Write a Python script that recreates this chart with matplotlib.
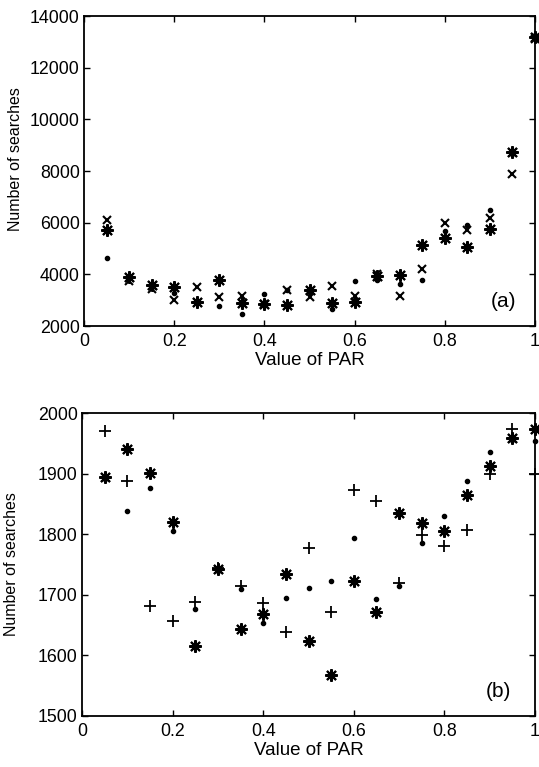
import numpy as np
import matplotlib
matplotlib.use("Agg")
import matplotlib.pyplot as plt

plt.rcParams['font.family'] = ['Liberation Sans', 'DejaVu Sans']

par = [0.05, 0.10, 0.15, 0.20, 0.25, 0.30, 0.35, 0.40, 0.45, 0.50,
       0.55, 0.60, 0.65, 0.70, 0.75, 0.80, 0.85, 0.90, 0.95, 1.00]

# panel (a)
a_star = [5700, 3910, 3600, 3510, 2920, 3780, 2890, 2840, 2810, 3410,
          2890, 2920, 3950, 3990, 5150, 5410, 5060, 5760, 8730, 13200]
a_cross = [6120, 3730, 3430, 3000, 3510, 3120, 3160, 2850, 3380, 3120,
           3550, 3180, 4000, 3150, 4220, 5990, 5710, 6200, 7900, 13100]
a_dot = [4620, 3850, 3500, 3290, 2950, 2790, 2480, 3250, 3400, 3320,
         2670, 3730, 3800, 3640, 3770, 5680, 5900, 6500, 8650, 13280]

# panel (b)
b_star = [1895, 1940, 1901, 1820, 1616, 1743, 1644, 1669, 1735, 1624,
          1568, 1723, 1672, 1835, 1818, 1806, 1865, 1912, 1959, 1973]
b_plus = [1971, 1888, 1681, 1657, 1688, 1745, 1714, 1686, 1638, 1777,
          1671, 1873, 1854, 1719, 1798, 1781, 1807, 1900, 1974, 1900]
b_dot = [1891, 1839, 1876, 1805, 1677, 1740, 1710, 1654, 1695, 1711,
         1723, 1794, 1693, 1715, 1786, 1830, 1888, 1935, 1955, 1954]

W, H = 539, 767
fig = plt.figure(figsize=(W / 100, H / 100), dpi=100)
ax1 = fig.add_axes([84 / W, 1 - 326 / H, 451 / W, 310 / H])
ax2 = fig.add_axes([82 / W, 1 - 716 / H, 453 / W, 303 / H])

asterisk = (8, 2, 0)


def style(ax):
    ax.set_xlim(0, 1)
    ax.set_xticks(np.arange(0, 1.01, 0.2))
    ax.set_xticklabels(['0', '0.2', '0.4', '0.6', '0.8', '1'])
    ax.tick_params(direction='in', length=4, width=1, top=True, right=True,
                   labelsize=12.8, colors='black')
    ax.tick_params(axis='x', pad=5)
    ax.tick_params(axis='y', pad=3)
    for s in ax.spines.values():
        s.set_linewidth(1.3)
    ax.set_xlabel('Value of PAR', fontsize=13.5, labelpad=1.5)
    ax.set_ylabel('Number of searches', fontsize=11.5)
    ax.yaxis.set_label_coords(-0.135, 0.54)


ax1.plot(par, a_dot, 'o', color='black', ms=3, clip_on=False)
ax1.plot(par, a_cross, 'x', color='black', ms=6, mew=1.5, clip_on=False)
ax1.plot(par, a_star, marker=asterisk, ls='none', color='black', ms=9, mew=1.5, clip_on=False)
ax1.set_ylim(2000, 14000)
ax1.set_yticks(np.arange(2000, 14001, 2000))
style(ax1)
ax1.text(0.93, 2930, '(a)', fontsize=15, ha='center', va='center')

ax2.plot(par, b_dot, 'o', color='black', ms=3, clip_on=False)
ax2.plot(par, b_plus, '+', color='black', ms=9, mew=1.3, clip_on=False)
ax2.plot(par, b_star, marker=asterisk, ls='none', color='black', ms=9, mew=1.5, clip_on=False)
ax2.set_ylim(1500, 2000)
ax2.set_yticks(np.arange(1500, 2001, 100))
style(ax2)
ax2.yaxis.set_label_coords(-0.14, 0.5)
ax2.text(0.92, 1541, '(b)', fontsize=15, ha='center', va='center')

fig.savefig('out.png', dpi=100)
